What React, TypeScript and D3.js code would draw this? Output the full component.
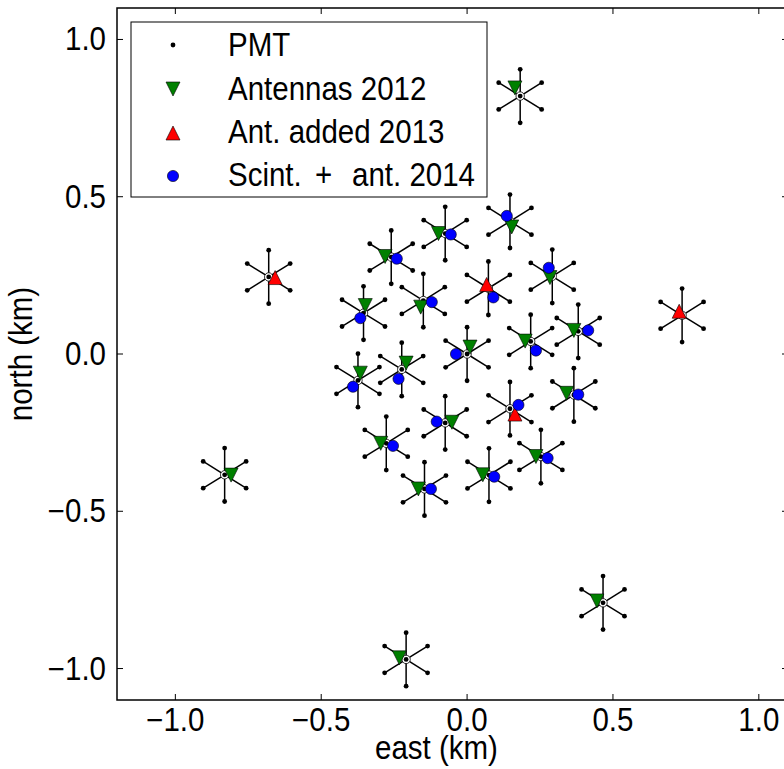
import React from 'react';
import * as d3 from 'd3';

// station layout of the array, km
// cluster centres (19 inner + 6 outer)
const clusterEast = [0.000, -0.075, -0.260, 0.147, 0.292, 0.073, -0.150, -0.355, 0.381, 0.218, -0.224, -0.374, 0.147, 0.366, -0.075, -0.277, 0.253, 0.075, -0.146, 0.182, -0.680, -0.831, 0.737, 0.466, -0.209];
const clusterNorth = [0.000, 0.383, 0.308, 0.422, 0.247, 0.209, 0.170, 0.130, 0.072, 0.040, -0.049, -0.084, -0.174, -0.130, -0.219, -0.284, -0.326, -0.385, -0.429, 0.820, 0.245, -0.384, 0.123, -0.791, -0.971];

// the six PMTs around each centre
const ringEast = [0, 0.0736, 0.0736, 0, -0.0736, -0.0736];
const ringNorth = [0.085, 0.0425, -0.0425, -0.085, -0.0425, 0.0425];

const ant2012East = [-0.098, -0.281, 0.153, 0.284, -0.159, -0.349, 0.366, 0.199, 0.010, -0.209, -0.366, 0.341, -0.052, -0.296, 0.236, 0.054, -0.167, 0.164, -0.809, 0.445, -0.232];
const ant2012North = [0.383, 0.310, 0.404, 0.243, 0.149, 0.154, 0.075, 0.041, 0.022, -0.029, -0.061, -0.125, -0.217, -0.284, -0.326, -0.384, -0.429, 0.846, -0.385, -0.785, -0.966];

const ant2013East = [0.067, 0.164, -0.658, 0.727];
const ant2013North = [0.221, -0.191, 0.243, 0.136];

const scint2014East = [-0.056, -0.241, 0.136, 0.280, 0.090, -0.121, -0.366, 0.415, 0.236, -0.038, -0.235, -0.391, 0.176, 0.381, -0.104, -0.254, 0.276, 0.093, -0.124];
const scint2014North = [0.380, 0.303, 0.439, 0.274, 0.180, 0.165, 0.114, 0.075, 0.011, 0.000, -0.079, -0.104, -0.162, -0.129, -0.215, -0.292, -0.331, -0.390, -0.429];

const xTicks = [-1.0, -0.5, 0.0, 0.5, 1.0];
const yTicks = [-1.0, -0.5, 0.0, 0.5, 1.0];
const legendLabels = ['PMT', 'Antennas 2012', 'Ant. added 2013'];

const W = 784, H = 769;
const m = { left: 117, right: 788, top: 8, bottom: 700 };
const font = '"Liberation Sans", Arial, Helvetica, sans-serif';
const fs = 29.5;
const sy = 1.1; // text in the figure is a bit taller than wide

const triUp = (s) => `M0,${-s}L${s},${s}L${-s},${s}Z`;
const triDown = (s) => `M0,${s}L${s},${-s}L${-s},${-s}Z`;

const T = ({ x, y, anchor = 'start', rot = 0, children }) => (
  <text transform={`translate(${x},${y}) rotate(${rot}) scale(1,${sy})`} textAnchor={anchor} fontSize={fs}>
    {children}
  </text>
);

export default function App() {
  const x = d3.scaleLinear().domain([-1.2, 1.1]).range([m.left, m.right]);
  const y = d3.scaleLinear().domain([-1.1, 1.1]).range([m.bottom, m.top]);
  const fmt = d3.format('.1f');
  const tl = 6;

  return (
    <svg width={W} height={H} style={{ position: 'absolute', left: 0, top: 0, background: '#fff' }}
      fontFamily={font}>
      <rect x={0} y={0} width={W} height={H} fill="#fff" />

      {/* clusters: spokes, outer PMTs, centre */}
      <g>
        {clusterEast.map((cx, i) => {
          const cy = clusterNorth[i];
          return (
            <g key={'c' + i}>
              {ringEast.map((dx, j) => (
                <line key={j} x1={x(cx)} y1={y(cy)} x2={x(cx + dx)} y2={y(cy + ringNorth[j])}
                  stroke="#000" strokeWidth={1.5} />
              ))}
              {ringEast.map((dx, j) => (
                <circle key={'d' + j} cx={x(cx + dx)} cy={y(cy + ringNorth[j])} r={2.4} fill="#000" />
              ))}
              <circle cx={x(cx)} cy={y(cy)} r={4.2} fill="#fff" stroke="#000" strokeWidth={0.8} />
              <circle cx={x(cx)} cy={y(cy)} r={2.4} fill="#000" />
            </g>
          );
        })}
      </g>

      {ant2012East.map((e, i) => (
        <path key={'g' + i} d={triDown(7)} transform={`translate(${x(e)},${y(ant2012North[i])})`}
          fill="#008000" stroke="#000" strokeWidth={0.6} />
      ))}
      {ant2013East.map((e, i) => (
        <path key={'r' + i} d={triUp(7)} transform={`translate(${x(e)},${y(ant2013North[i])})`}
          fill="#ff0000" stroke="#000" strokeWidth={0.6} />
      ))}
      {scint2014East.map((e, i) => (
        <circle key={'b' + i} cx={x(e)} cy={y(scint2014North[i])} r={5.6}
          fill="#0000ff" stroke="#000" strokeWidth={0.6} />
      ))}

      {/* frame */}
      <rect x={m.left} y={m.top} width={m.right - m.left} height={m.bottom - m.top}
        fill="none" stroke="#000" strokeWidth={1.5} />

      {xTicks.map((t) => (
        <g key={'xt' + t}>
          <line x1={x(t)} x2={x(t)} y1={m.bottom} y2={m.bottom - tl} stroke="#000" strokeWidth={1} />
          <line x1={x(t)} x2={x(t)} y1={m.top} y2={m.top + tl} stroke="#000" strokeWidth={1} />
          <T x={x(t)} y={731} anchor="middle">{fmt(t)}</T>
        </g>
      ))}
      {yTicks.map((t) => (
        <g key={'yt' + t}>
          <line x1={m.left} x2={m.left + tl} y1={y(t)} y2={y(t)} stroke="#000" strokeWidth={1} />
          <line x1={m.right} x2={m.right - tl} y1={y(t)} y2={y(t)} stroke="#000" strokeWidth={1} />
          <T x={106} y={y(t) + 11} anchor="end">{fmt(t)}</T>
        </g>
      ))}

      <T x={(m.left + m.right) / 2 - 16} y={759} anchor="middle">east (km)</T>
      <T x={32} y={(m.top + m.bottom) / 2} anchor="middle" rot={-90}>north (km)</T>

      {/* legend */}
      <g>
        <rect x={131} y={22} width={356} height={175} fill="#fff" stroke="#000" strokeWidth={1} />
        <circle cx={173} cy={45} r={2.4} fill="#000" />
        <path d={triDown(7)} transform="translate(173,89)" fill="#008000" stroke="#000" strokeWidth={0.6} />
        <path d={triUp(7)} transform="translate(173,133)" fill="#ff0000" stroke="#000" strokeWidth={0.6} />
        <circle cx={173} cy={176} r={5.6} fill="#0000ff" stroke="#000" strokeWidth={0.6} />
        {legendLabels.map((l, i) => (
          <T key={l} x={228} y={56 + i * 43.5}>{l}</T>
        ))}
        <T x={228} y={186}>Scint.</T>
        <T x={315} y={186}>+</T>
        <T x={352} y={186}>ant. 2014</T>
      </g>
    </svg>
  );
}
